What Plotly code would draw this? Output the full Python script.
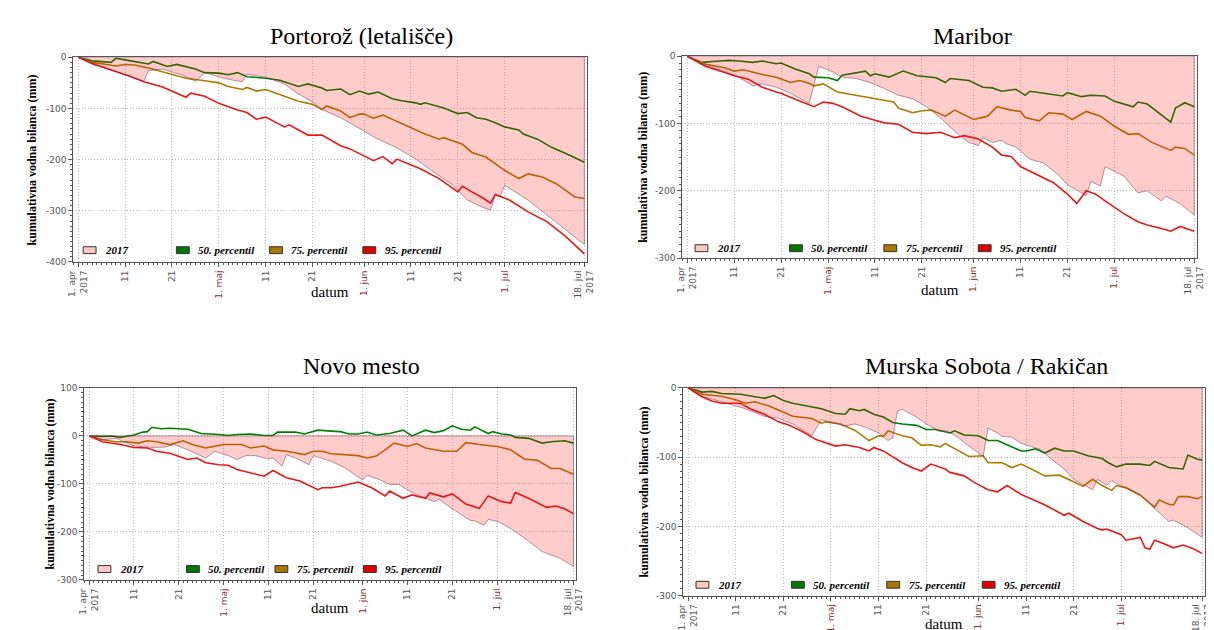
import plotly.graph_objects as go
import pandas as pd

# ---------------- data (day offset from 1 Apr 2017, cumulative water balance in mm) ----------------
# Portorož (letališče)
P_D17 = [0,3,8,14,15,18,22,25,27,31,35,36,40,44,47,50,52,56,60,64,68,72,76,80,83,86,88,89,90,91,96,100,104,108]
P_V17 = [0,-14,-28,-47,-26,-23,-34,-47,-30,-41,-48,-33,-39,-52,-72,-87,-102,-118,-139,-160,-177,-199,-225,-250,-279,-292,-299,-268,-273,-250,-279,-308,-337,-366]
P_D50 = [0,3,7,8,10,15,16,19,21,25,27,30,32,34,36,40,43,47,49,52,53,56,58,60,62,64,67,69,72,73,74,78,81,83,85,87,89,91,94,95,98,101,105,108]
P_V50 = [0,-7,-10,-2,-5,-13,-8,-18,-14,-23,-30,-31,-34,-30,-38,-41,-45,-57,-52,-60,-65,-62,-73,-66,-72,-68,-81,-85,-89,-92,-89,-99,-110,-108,-118,-121,-128,-136,-142,-150,-160,-176,-192,-205]
P_D75 = [0,3,6,8,10,12,15,18,21,23,27,30,32,35,36,38,40,43,44,47,50,52,53,56,58,60,61,63,65,68,71,74,77,78,82,84,87,91,94,96,99,102,106,108]
P_V75 = [0,-10,-14,-17,-14,-15,-21,-28,-36,-41,-46,-50,-57,-63,-59,-66,-63,-73,-76,-86,-92,-102,-95,-105,-118,-111,-111,-119,-113,-125,-137,-150,-160,-157,-170,-186,-195,-221,-237,-228,-234,-247,-273,-276]
P_D95 = [0,3,8,11,14,18,23,24,27,30,34,36,38,40,44,45,49,52,56,58,63,65,67,68,73,77,81,82,84,86,88,89,92,96,100,104,108]
P_V95 = [0,-12,-28,-37,-48,-58,-78,-70,-76,-90,-103,-108,-121,-117,-136,-132,-152,-152,-173,-179,-202,-194,-208,-199,-218,-237,-263,-252,-263,-273,-285,-268,-279,-302,-321,-350,-384]

# Maribor
M_D17 = [0,4,8,11,14,16,19,22,26,28,31,33,36,39,42,45,48,51,54,58,60,62,63,65,67,68,70,73,76,79,81,85,86,88,89,93,96,98,101,102,105,108]
M_V17 = [0,-14,-22,-31,-44,-41,-46,-55,-70,-15,-23,-31,-33,-39,-48,-58,-63,-75,-92,-118,-128,-133,-121,-128,-125,-130,-135,-153,-159,-176,-191,-207,-186,-193,-164,-178,-203,-200,-215,-208,-219,-236]
M_D50 = [0,3,7,9,11,14,16,19,20,23,26,27,30,32,33,36,38,39,40,43,46,49,53,55,56,60,63,65,67,70,72,73,77,80,81,84,86,89,91,95,96,98,101,103,104,106,108]
M_V50 = [0,-9,-7,-6,-7,-9,-7,-11,-10,-19,-26,-31,-32,-36,-28,-25,-22,-29,-26,-31,-22,-29,-32,-39,-33,-36,-46,-47,-52,-49,-58,-52,-56,-59,-54,-60,-58,-59,-67,-75,-68,-71,-87,-98,-77,-69,-75]
M_D75 = [0,4,8,10,12,16,19,22,24,26,27,29,32,36,39,40,44,45,48,50,52,55,57,61,64,66,69,71,72,75,77,80,82,85,88,91,94,96,99,103,104,106,108]
M_V75 = [0,-12,-17,-22,-20,-27,-31,-39,-36,-40,-44,-41,-53,-58,-62,-63,-68,-77,-84,-81,-80,-89,-80,-94,-89,-75,-80,-82,-91,-96,-84,-86,-94,-82,-89,-104,-116,-115,-128,-140,-135,-137,-147]
M_D95 = [0,4,8,10,13,16,19,20,23,26,27,29,31,33,37,40,42,45,48,51,54,57,59,62,65,67,69,71,75,78,81,83,85,87,89,93,96,98,101,103,105,108]
M_V95 = [0,-15,-24,-29,-34,-46,-53,-55,-64,-72,-75,-68,-70,-75,-89,-95,-99,-101,-113,-115,-113,-121,-118,-123,-135,-147,-149,-164,-178,-188,-205,-219,-200,-205,-215,-234,-246,-251,-256,-260,-253,-260]

# Novo mesto
N_D17 = [0,3,6,10,14,17,19,22,26,28,31,33,35,37,40,41,43,44,46,49,50,54,57,61,62,65,67,69,72,77,78,81,85,86,88,89,91,94,98,101,105,108]
N_V17 = [0,-8,-5,-21,-24,-23,-18,-29,-46,-32,-41,-49,-41,-41,-48,-46,-63,-39,-46,-60,-41,-53,-66,-92,-82,-92,-101,-101,-118,-137,-132,-152,-176,-177,-186,-174,-178,-193,-219,-241,-255,-272]
N_D50 = [0,3,5,7,10,12,13,14,16,18,22,25,29,31,33,36,39,41,42,46,48,51,54,56,58,60,62,64,67,70,72,74,75,77,79,81,83,85,86,89,90,92,94,95,98,101,103,106,108]
N_V50 = [0,-1,0,-3,2,8,9,18,15,16,14,5,3,1,3,4,1,1,8,8,4,12,10,9,4,4,8,2,5,12,0,7,12,7,11,21,14,12,19,5,9,4,2,-3,-5,-15,-12,-10,-15]
N_D75 = [0,3,6,8,11,13,15,18,21,23,26,28,30,34,36,39,41,44,48,50,52,54,57,60,62,64,66,68,71,73,75,77,79,82,84,87,91,94,97,100,103,105,108]
N_V75 = [0,-8,-12,-12,-15,-10,-12,-18,-10,-18,-25,-22,-18,-18,-25,-21,-29,-32,-39,-32,-32,-37,-39,-41,-46,-42,-29,-15,-22,-16,-25,-29,-32,-32,-14,-18,-22,-29,-48,-51,-68,-68,-80]
N_D95 = [0,3,7,10,13,15,18,20,22,24,26,29,31,33,36,39,41,44,47,51,52,54,56,60,63,66,67,70,72,75,76,79,81,84,87,89,92,94,95,98,102,104,106,108]
N_V95 = [0,-12,-18,-24,-25,-32,-36,-42,-49,-46,-56,-60,-61,-70,-77,-84,-72,-87,-94,-112,-108,-108,-105,-96,-108,-125,-115,-130,-123,-130,-119,-127,-121,-142,-151,-125,-137,-140,-118,-130,-149,-146,-152,-162]

# Murska Sobota / Rakičan
S_D17 = [0,3,7,12,16,19,22,26,28,31,33,35,37,40,42,43,44,45,48,50,53,54,56,59,62,63,65,66,68,70,74,76,79,81,84,85,86,88,89,91,95,98,101,102,105,108]
S_V17 = [0,-12,-20,-30,-41,-44,-52,-69,-46,-52,-55,-52,-56,-65,-76,-72,-33,-31,-42,-52,-63,-61,-68,-84,-99,-58,-65,-70,-71,-80,-89,-101,-117,-132,-143,-147,-132,-141,-134,-142,-155,-174,-193,-191,-202,-216]
S_D50 = [0,3,5,7,11,14,16,18,20,22,25,28,31,33,34,36,37,39,41,43,45,48,50,52,55,56,58,61,63,65,67,70,71,73,75,77,79,81,84,87,88,90,92,95,97,98,101,104,105,107,108]
S_V50 = [0,-6,-5,-8,-9,-12,-15,-11,-18,-22,-26,-30,-37,-38,-30,-33,-31,-38,-42,-50,-52,-54,-60,-60,-65,-62,-68,-69,-76,-76,-82,-91,-91,-88,-94,-87,-91,-91,-98,-102,-107,-114,-110,-110,-112,-106,-115,-117,-97,-103,-104]
S_D75 = [0,3,7,10,12,14,17,20,22,26,28,29,32,35,38,40,41,42,45,47,49,51,53,54,57,59,62,63,66,68,70,73,75,78,80,83,85,87,89,90,92,95,98,99,101,102,103,105,107,108]
S_V75 = [0,-9,-12,-17,-22,-20,-26,-35,-41,-44,-51,-49,-52,-61,-76,-69,-70,-62,-69,-72,-83,-82,-85,-80,-91,-99,-98,-108,-108,-115,-110,-120,-127,-126,-132,-142,-132,-141,-148,-141,-144,-155,-172,-162,-168,-169,-157,-157,-160,-157]
S_D95 = [0,3,5,7,11,13,16,19,21,24,27,29,31,33,36,38,39,41,45,47,49,51,54,55,58,60,63,65,67,70,72,75,79,80,83,86,87,88,91,92,95,96,97,98,100,102,104,106,108]
S_V95 = [0,-13,-19,-22,-22,-30,-38,-49,-53,-63,-75,-80,-84,-82,-86,-91,-86,-91,-108,-115,-120,-110,-117,-122,-127,-136,-147,-150,-141,-154,-160,-169,-184,-181,-193,-203,-205,-204,-212,-220,-216,-231,-233,-220,-225,-231,-227,-232,-239]

TITLES = ["Portorož (letališče)", "Maribor", "Novo mesto", "Murska Sobota / Rakičan"]
LEGEND_LABELS = ["2017", "50. percentil", "75. percentil", "95. percentil"]
X_TICK_DAYS = [0, 10, 20, 30, 40, 50, 61, 71, 81, 91, 108]
X_TICK_TEXT = ["1. apr<br>2017", "11", "21", "1. maj", "11", "21", "1. jun", "11", "21", "1. jul", "18. jul<br>2017"]
MONTH_LABELS = {"1. maj", "1. jun", "1. jul"}
Y_RANGES = [(-400, 0), (-300, 0), (-300, 100), (-300, 0)]
Y_TITLE = "kumulativna vodna bilanca (mm)"
X_TITLE = "datum"

# ---------------- styling / geometry ----------------
W, H = 1214, 630
SERIF = "Liberation Serif, Times New Roman, serif"
SANS = "DejaVu Sans, sans-serif"
C_FILL = "rgba(255,0,0,0.2)"
C_EDGE = "rgba(110,50,90,0.5)"
C50, C75, C95 = "#008000", "#b07a00", "#e81818"
LEG_FILLS = ["#ffc8c8", "#007800", "#a87800", "#e00000"]

# plot area (px), title pos, y-title x, "datum" y, legend (first offset, spacing, y)
GEOM = [
    dict(L=60, R=580, T=45, B=253, tx=352, ty=23, yx=18, dy=283, lx0=10, lsp=94.3, ly=241),
    dict(L=676, R=1197, T=44, B=249, tx=970, ty=23, yx=637, dy=281, lx0=13, lsp=95.5, ly=239),
    dict(L=71, R=569, T=381, B=576, tx=352, ty=359, yx=36, dy=605, lx0=14, lsp=89.5, ly=565),
    dict(L=677, R=1205, T=381, B=592, tx=984, ty=359, yx=637, dy=621, lx0=13, lsp=96.5, ly=581),
]

BASE = pd.Timestamp("2017-04-01")


def to_dates(days):
    return [BASE + pd.Timedelta(days=d) for d in days]


PANELS = [
    (P_D17, P_V17, P_D50, P_V50, P_D75, P_V75, P_D95, P_V95),
    (M_D17, M_V17, M_D50, M_V50, M_D75, M_V75, M_D95, M_V95),
    (N_D17, N_V17, N_D50, N_V50, N_D75, N_V75, N_D95, N_V95),
    (S_D17, S_V17, S_D50, S_V50, S_D75, S_V75, S_D95, S_V95),
]

fig = go.Figure()
shapes = []
annotations = []

tick_text = [
    (f'<span style="color:#8b3030">{t}</span>' if t in MONTH_LABELS else t) for t in X_TICK_TEXT
]

for i, (panel, g) in enumerate(zip(PANELS, GEOM)):
    d17, v17, d50, v50, d75, v75, d95, v95 = panel
    sfx = "" if i == 0 else str(i + 1)
    xa, ya = "x" + sfx, "y" + sfx

    for dd, vv, col in ((d50, v50, C50), (d75, v75, C75), (d95, v95, C95)):
        fig.add_trace(go.Scatter(x=to_dates(dd), y=vv, mode="lines",
                                 line=dict(color=col, width=1.6),
                                 xaxis=xa, yaxis=ya, showlegend=False, hoverinfo="skip"))
    # 2017 area: closed polygon between the 2017 curve and zero (drawn on top, translucent)
    xs = to_dates(d17 + [d17[-1], d17[0]])
    ys = v17 + [0, 0]
    fig.add_trace(go.Scatter(x=xs, y=ys, mode="lines", fill="toself", fillcolor=C_FILL,
                             line=dict(color=C_EDGE, width=1),
                             xaxis=xa, yaxis=ya, showlegend=False, hoverinfo="skip"))

    L, R, T, B = g["L"], g["R"], g["T"], g["B"]
    ppd = (R - L - 8) / 108.0
    r0 = BASE + pd.Timedelta(days=-5 / ppd)
    r1 = BASE + pd.Timedelta(days=108 + 3 / ppd)
    ymin, ymax = Y_RANGES[i]
    yt = list(range(ymin, ymax + 1, 100))
    common = dict(showline=True, linecolor="#555", linewidth=1, mirror=True,
                  zeroline=False, showgrid=True, gridcolor="#bdbdbd", griddash="1px,2px",
                  gridwidth=1, ticks="outside", ticklen=4, tickcolor="#555",
                  tickfont=dict(family=SANS, size=9, color="#555"))
    fig.layout["xaxis" + sfx] = dict(
        domain=[L / W, R / W], anchor=ya, type="date", range=[r0, r1],
        tickmode="array", tickvals=to_dates(X_TICK_DAYS), ticktext=tick_text, tickangle=-90,
        minor=dict(ticks="outside", ticklen=2, dtick=86400000, tick0="2017-04-01",
                   tickcolor="#555", showgrid=False),
        **common)
    fig.layout["yaxis" + sfx] = dict(
        domain=[1 - B / H, 1 - T / H], anchor=xa, range=[ymin, ymax],
        tickmode="array", tickvals=yt, ticktext=[str(v) for v in yt],
        minor=dict(ticks="outside", ticklen=2, dtick=10, tickcolor="#555", showgrid=False),
        **common)

    annotations.append(dict(text=TITLES[i], x=g["tx"] / W, y=1 - g["ty"] / H, xref="paper", yref="paper",
                            showarrow=False, xanchor="center", yanchor="middle",
                            font=dict(family=SERIF, size=24, color="#000")))
    annotations.append(dict(text="<b>" + Y_TITLE + "</b>", x=g["yx"] / W, y=1 - (T + B) / 2 / H,
                            xref="paper", yref="paper", showarrow=False, textangle=-90,
                            xanchor="center", yanchor="middle",
                            font=dict(family=SERIF, size=12, color="#000")))
    annotations.append(dict(text=X_TITLE, x=(L + R) / 2 / W, y=1 - g["dy"] / H, xref="paper", yref="paper",
                            showarrow=False, xanchor="center", yanchor="middle",
                            font=dict(family=SERIF, size=15, color="#000")))
    for k, (lab, fc) in enumerate(zip(LEGEND_LABELS, LEG_FILLS)):
        sx = L + g["lx0"] + k * g["lsp"]
        sy = g["ly"]
        shapes.append(dict(type="rect", xref="paper", yref="paper",
                           x0=sx / W, x1=(sx + 13) / W, y0=1 - (sy + 3.5) / H, y1=1 - (sy - 3.5) / H,
                           fillcolor=fc, line=dict(color="#333", width=1), layer="above"))
        annotations.append(dict(text="<b><i>" + lab + "</i></b>", x=(sx + 20) / W, y=1 - sy / H,
                                xref="paper", yref="paper", showarrow=False,
                                xanchor="left", yanchor="middle",
                                font=dict(family=SERIF, size=11, color="#000")))

fig.update_layout(width=W, height=H, margin=dict(l=0, r=0, t=0, b=0),
                  paper_bgcolor="white", plot_bgcolor="white",
                  shapes=shapes, annotations=annotations, showlegend=False)

fig.write_html("out.html")
